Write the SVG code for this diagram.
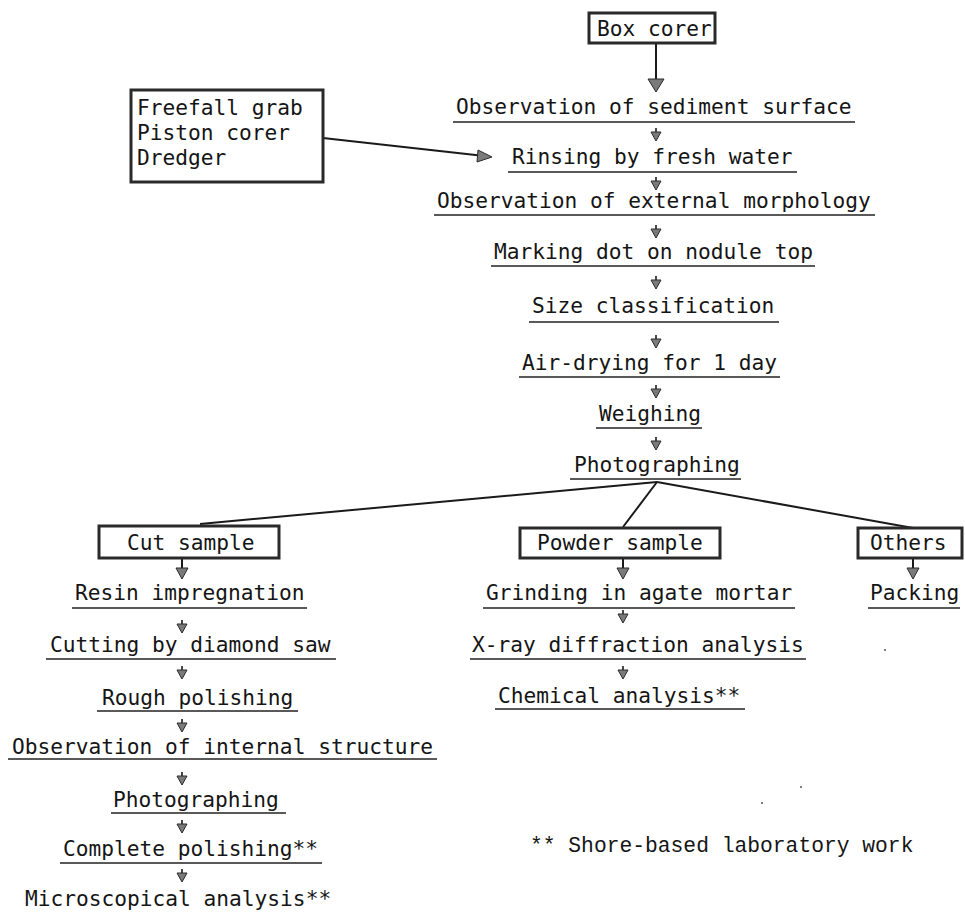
<svg xmlns="http://www.w3.org/2000/svg" xmlns:xlink="http://www.w3.org/1999/xlink" width="965" height="912" viewBox="0 0 965 912">
<style>
  text { font-family: "DejaVu Sans Mono", "Liberation Mono", monospace; font-size: 21.2px; fill: #151515; }
  .note { font-family: "Liberation Mono", "DejaVu Sans Mono", monospace; font-size: 21.3px; }
  .box { fill: #ffffff; stroke: #2a2a2a; stroke-width: 3; }
  .ul { stroke: #222; stroke-width: 1.6; }
  .ln { stroke: #1a1a1a; stroke-width: 2; fill: none; }
  .head { fill: #7a7a7a; stroke: #2a2a2a; stroke-width: 1; stroke-linejoin: round; }
  .speck { fill: #555; }
</style>
<defs>
  <g id="sa">
    <line x1="0" y1="0" x2="0" y2="5" stroke="#1a1a1a" stroke-width="1.6"/>
    <polygon class="head" points="-5,4 5,4 0,13"/>
  </g>
  <g id="ba">
    <line x1="0" y1="0" x2="0" y2="10" stroke="#1a1a1a" stroke-width="2"/>
    <polygon class="head" points="-6,9 6,9 0,20"/>
  </g>
</defs>
<rect width="965" height="912" fill="#ffffff"/>

<g id="connectors">
  <line class="ln" x1="656" y1="43" x2="656" y2="80"/>
  <polygon class="head" points="648,79 664,79 656,92"/>
  <line class="ln" x1="323" y1="138" x2="480" y2="155.5"/>
  <polygon class="head" points="478,150 492,157 477,162"/>
  <use xlink:href="#sa" x="656" y="128"/>
  <use xlink:href="#sa" x="656" y="177"/>
  <use xlink:href="#sa" x="656" y="225"/>
  <use xlink:href="#sa" x="656" y="276"/>
  <use xlink:href="#sa" x="656" y="335"/>
  <use xlink:href="#sa" x="656" y="385"/>
  <use xlink:href="#sa" x="656" y="437"/>
  <line class="ln" x1="657" y1="482" x2="200" y2="524"/>
  <line class="ln" x1="657" y1="482" x2="623" y2="527"/>
  <line class="ln" x1="657" y1="482" x2="913" y2="528"/>
  <use xlink:href="#ba" x="182" y="559"/>
  <use xlink:href="#ba" x="623" y="559"/>
  <use xlink:href="#ba" x="913" y="559"/>
  <use xlink:href="#sa" x="182" y="620"/>
  <use xlink:href="#sa" x="182" y="666"/>
  <use xlink:href="#sa" x="182" y="719"/>
  <use xlink:href="#sa" x="182" y="772"/>
  <use xlink:href="#sa" x="182" y="820"/>
  <use xlink:href="#sa" x="182" y="869"/>
  <use xlink:href="#sa" x="623" y="610"/>
  <use xlink:href="#sa" x="623" y="666"/>
</g>

<g id="box-corer">
  <rect class="box" x="589" y="13" width="126" height="30"/>
  <text x="597" y="36">Box corer</text>
</g>
<g id="other-samplers">
  <rect class="box" x="131" y="90" width="192" height="92"/>
  <text x="137" y="115">Freefall grab</text>
  <text x="137" y="140">Piston corer</text>
  <text x="137" y="165">Dredger</text>
</g>
<g id="obs-sediment">
  <text x="456" y="114">Observation of sediment surface</text>
  <line class="ul" x1="453" y1="122" x2="855" y2="122"/>
</g>
<g id="rinsing">
  <text x="512" y="164">Rinsing by fresh water</text>
  <line class="ul" x1="508" y1="172" x2="797" y2="172"/>
</g>
<g id="obs-external">
  <text x="437" y="208">Observation of external morphology</text>
  <line class="ul" x1="434" y1="215" x2="875" y2="215"/>
</g>
<g id="marking">
  <text x="494" y="259">Marking dot on nodule top</text>
  <line class="ul" x1="491" y1="266" x2="815" y2="266"/>
</g>
<g id="size">
  <text x="532" y="313">Size classification</text>
  <line class="ul" x1="529" y1="322" x2="779" y2="322"/>
</g>
<g id="air-drying">
  <text x="522" y="370">Air-drying for 1 day</text>
  <line class="ul" x1="519" y1="377" x2="780" y2="377"/>
</g>
<g id="weighing">
  <text x="599" y="421">Weighing</text>
  <line class="ul" x1="596" y1="428" x2="702" y2="428"/>
</g>
<g id="photographing-1">
  <text x="574" y="472">Photographing</text>
  <line class="ul" x1="570" y1="479" x2="741" y2="479"/>
</g>

<g id="cut-sample">
  <rect class="box" x="99" y="526" width="180" height="32"/>
  <text x="127" y="550">Cut sample</text>
</g>
<g id="resin">
  <text x="75" y="600">Resin impregnation</text>
  <line class="ul" x1="72" y1="608" x2="307" y2="608"/>
</g>
<g id="cutting">
  <text x="50" y="652">Cutting by diamond saw</text>
  <line class="ul" x1="46" y1="659" x2="336" y2="659"/>
</g>
<g id="rough">
  <text x="102" y="705">Rough polishing</text>
  <line class="ul" x1="97" y1="711" x2="298" y2="711"/>
</g>
<g id="obs-internal">
  <text x="12" y="754">Observation of internal structure</text>
  <line class="ul" x1="8" y1="759" x2="437" y2="759"/>
</g>
<g id="photographing-2">
  <text x="113" y="807">Photographing</text>
  <line class="ul" x1="111" y1="813" x2="286" y2="813"/>
</g>
<g id="complete">
  <text x="63" y="856">Complete polishing**</text>
  <line class="ul" x1="60" y1="863" x2="322" y2="863"/>
</g>
<g id="microscopical">
  <text x="25" y="906">Microscopical analysis**</text>
</g>

<g id="powder-sample">
  <rect class="box" x="520" y="528" width="200" height="30"/>
  <text x="537" y="550">Powder sample</text>
</g>
<g id="grinding">
  <text x="486" y="600">Grinding in agate mortar</text>
  <line class="ul" x1="483" y1="608" x2="795" y2="608"/>
</g>
<g id="xray">
  <text x="472" y="652">X-ray diffraction analysis</text>
  <line class="ul" x1="470" y1="659" x2="806" y2="659"/>
</g>
<g id="chemical">
  <text x="498" y="703">Chemical analysis**</text>
  <line class="ul" x1="495" y1="709" x2="745" y2="709"/>
</g>

<g id="others">
  <rect class="box" x="858" y="528" width="104" height="30"/>
  <text x="870" y="550">Others</text>
</g>
<g id="packing">
  <text x="870" y="600">Packing</text>
  <line class="ul" x1="868" y1="608" x2="960" y2="608"/>
</g>

<g id="footnote">
  <text class="note" x="530" y="852">** Shore-based laboratory work</text>
</g>

<circle class="speck" cx="885" cy="650" r="1"/>
<circle class="speck" cx="801" cy="787" r="1"/>
<circle class="speck" cx="762" cy="803" r="1"/>
</svg>
